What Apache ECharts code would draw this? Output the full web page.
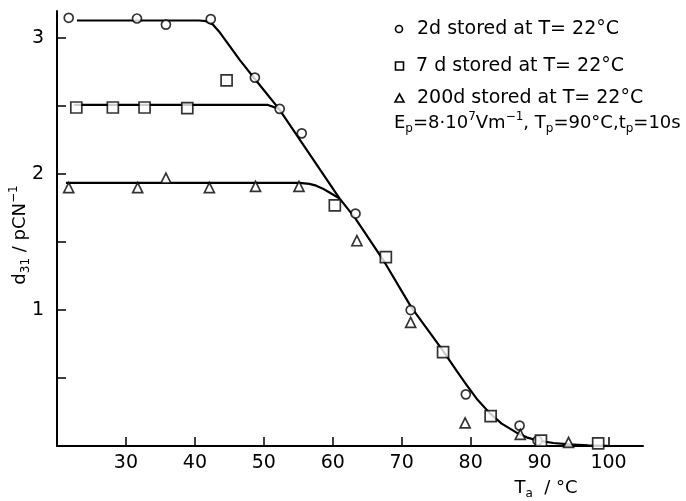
<!DOCTYPE html>
<html>
<head>
<meta charset="utf-8">
<script src="https://cdn.jsdelivr.net/npm/echarts@6/dist/echarts.min.js"></script>
<style>html,body{margin:0;padding:0;background:#fff}#c{width:686px;height:501px}</style>
</head>
<body>
<div id="c"></div>
<script>
// Measured points
const circles2d = [[21.7,3.15],[31.6,3.145],[35.8,3.10],[42.3,3.14],[48.7,2.71],[52.3,2.48],[55.5,2.30],[63.3,1.71],[71.3,1.00],[79.3,0.38],[87.1,0.15],[89.7,0.04]];
const squares7d = [[22.8,2.49],[28.1,2.49],[32.7,2.49],[38.9,2.485],[44.6,2.69],[60.3,1.77],[67.7,1.39],[76.0,0.69],[82.9,0.22],[90.2,0.04],[98.5,0.02]];
const triangles200d = [[21.7,1.90],[31.7,1.90],[35.8,1.97],[42.1,1.90],[48.8,1.91],[55.1,1.91],[63.5,1.51],[71.3,0.91],[79.2,0.17],[87.2,0.086],[94.2,0.027]];
// Fitted curves
const curve2d = [[22.9,3.13],[40.6,3.13],[41.6,3.125],[42.6,3.10],[43.5,3.05],[44.5,2.98],[46.5,2.84],[48.7,2.70],[52.2,2.48],[61.0,1.82],[63.2,1.68],[67.3,1.37],[71.4,1.02],[74.0,0.84],[76.0,0.70],[78.0,0.55],[79.4,0.45],[81.0,0.34],[82.8,0.24],[84.5,0.165],[86.6,0.10],[88.2,0.062],[89.8,0.040],[92.0,0.022],[94.3,0.012],[97.0,0.005],[99.9,0.002]];
const curve7d = [[22.5,2.51],[50.5,2.51],[52.2,2.48]];
const curve200d = [[21.3,1.935],[55.2,1.935],[56.6,1.928],[57.6,1.915],[58.5,1.895],[59.4,1.868],[60.2,1.845],[61.0,1.82]];
const xTicks = [30,40,50,60,70,80,90,100];
const yTicks = [0.5,1,1.5,2,2.5,3];
const yLabels = [1,2,3];
const legendTexts = ['2d stored at T= 22°C','7 d stored at T= 22°C','200d stored at T= 22°C'];

const FONT = 'DejaVu Sans';
const chart = echarts.init(document.getElementById('c'));
const markStyle = {color:'#fff', borderColor:'#000', borderWidth:1.7};
const lineSeries = (d) => ({type:'line', data:d, symbol:'none', smooth:false, lineStyle:{color:'#000', width:2.2, join:'round'}, z:2, silent:true});
const scat = (d, sym, size) => ({type:'scatter', data:d, symbol:sym, symbolSize:size, itemStyle:markStyle, z:3, silent:true});

function txt(x, y, text, extra) {
  return Object.assign({type:'text', x:x, y:y, style:{text:text, font:'19px ' + FONT, fontFamily:FONT, fontSize:19, fill:'#000', textVerticalAlign:'middle', verticalAlign:'middle', textAlign:'left', align:'left'}}, extra || {});
}

const option = {
  animation:false,
  backgroundColor:'#fff',
  grid:{left:57, right:43, top:11, bottom:55},
  xAxis:{type:'value', min:20, max:105,
    axisLine:{lineStyle:{color:'#000', width:2}},
    axisTick:{inside:true, length:9, lineStyle:{color:'#000', width:1.5}, customValues:xTicks},
    axisLabel:{color:'#000', fontSize:19, fontFamily:FONT, margin:8, customValues:xTicks},
    splitLine:{show:false}},
  yAxis:{type:'value', min:0, max:3.2,
    axisLine:{lineStyle:{color:'#000', width:2}},
    axisTick:{inside:true, length:9, lineStyle:{color:'#000', width:1.5}, customValues:yTicks},
    axisLabel:{color:'#000', fontSize:19, fontFamily:FONT, margin:13, customValues:yLabels},
    splitLine:{show:false}},
  series:[
    lineSeries(curve2d), lineSeries(curve7d), lineSeries(curve200d),
    scat(circles2d,'circle',9), scat(squares7d,'rect',11), scat(triangles200d,'triangle',10)
  ],
  graphic:[
    {type:'circle', shape:{cx:399, cy:29, r:3.5}, style:{fill:'#fff', stroke:'#000', lineWidth:1.6}},
    {type:'rect', shape:{x:395.5, y:62, width:8, height:8}, style:{fill:'#fff', stroke:'#000', lineWidth:1.6}},
    {type:'polygon', shape:{points:[[399.5,94],[395,102],[404,102]]}, style:{fill:'#fff', stroke:'#000', lineWidth:1.6}},
    txt(417, 29, legendTexts[0]),
    txt(416, 66, legendTexts[1]),
    txt(417, 98, legendTexts[2]),
    {type:'text', x:394, y:123, style:{
      text:'{n|E}{s|p}{n|=8·10}{u|7}{n|Vm}{u|−1}{n|, T}{s|p}{n|=90°C,t}{s|p}{n|=10s}',
      fill:'#000', textVerticalAlign:'middle', verticalAlign:'middle', textAlign:'left', align:'left',
      rich:{
        n:{fontSize:18, fontFamily:FONT, fill:'#000', color:'#000'},
        s:{fontSize:12, fontFamily:FONT, fill:'#000', color:'#000', padding:[12,0,0,0]},
        u:{fontSize:12, fontFamily:FONT, fill:'#000', color:'#000', padding:[0,0,12,0]}
      }}},
    {type:'text', x:20, y:235, rotation:Math.PI/2, style:{
      text:'{n|d}{s|31}{n| / pCN}{u|−1}',
      fill:'#000', textVerticalAlign:'middle', verticalAlign:'middle', textAlign:'center', align:'center',
      rich:{
        n:{fontSize:18, fontFamily:FONT, fill:'#000', color:'#000'},
        s:{fontSize:12, fontFamily:FONT, fill:'#000', color:'#000', padding:[12,0,0,0]},
        u:{fontSize:12, fontFamily:FONT, fill:'#000', color:'#000', padding:[0,0,12,0]}
      }}},
    {type:'text', x:546, y:488, style:{
      text:'{n|T}{s|a}{n|  / °C}',
      fill:'#000', textVerticalAlign:'middle', verticalAlign:'middle', textAlign:'center', align:'center',
      rich:{
        n:{fontSize:18, fontFamily:FONT, fill:'#000', color:'#000'},
        s:{fontSize:12, fontFamily:FONT, fill:'#000', color:'#000', padding:[12,0,0,0]}
      }}}
  ]
};
chart.setOption(option);
</script>
</body>
</html>
